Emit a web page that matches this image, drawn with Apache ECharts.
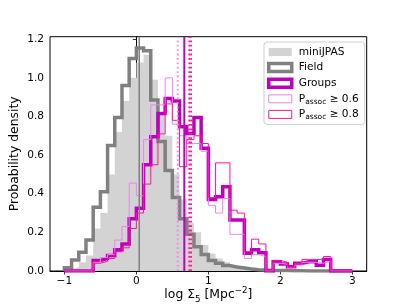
<!DOCTYPE html>
<html><head><meta charset="utf-8">
<script src="https://cdn.jsdelivr.net/npm/echarts@6/dist/echarts.min.js"></script>
<style>html,body{margin:0;padding:0;background:#fff}#c{width:407px;height:305px}</style>
</head><body><div id="c"></div>
<script>
const binEdges = [-1.0,-0.9,-0.8,-0.7,-0.6,-0.5,-0.4,-0.3,-0.2,-0.1,0.0,0.1,0.2,0.3,0.4,0.5,0.6,0.7,0.8,0.9,1.0,1.1,1.2,1.3,1.4,1.5,1.6,1.7,1.8,1.9,2.0,2.1,2.2,2.3,2.4,2.5,2.6,2.7,2.8,2.9,3.0];
const miniJPAS = [0.01,0.02,0.045,0.08,0.22,0.3,0.5,0.72,0.88,1.0,1.08,1.12,0.99,0.82,0.7,0.5,0.37,0.25,0.2,0.135,0.09,0.065,0.045,0.032,0.024,0.018,0.012,0.008,0.005,0.003,0.002,0.002,0.001,0.001,0.001,0.001,0.001,0,0,0];
const field = [0.017,0.057,0.097,0.16,0.33,0.41,0.65,0.795,0.96,1.10,1.155,1.14,0.885,0.67,0.52,0.38,0.27,0.19,0.125,0.085,0.055,0.04,0.028,0.02,0.015,0.01,0.007,0.005,0.003,0.002,0.002,0.001,0.001,0,0,0,0,0,0,0];
const groups = [0,0,0,0,0.055,0.065,0.08,0.11,0.14,0.27,0.325,0.55,0.695,0.816,0.893,0.88,0.747,0.712,0.795,0.635,0.37,0.385,0.436,0.264,0.264,0.092,0.11,0.095,0,0.048,0.036,0.022,0.04,0.048,0.048,0.03,0.06,0,0,0];
const passoc06 = [0,0,0,0,0.045,0.07,0.085,0.16,0.23,0.455,0.39,0.68,0.86,0.86,1.0,0.76,0.7,0.66,0.66,0.62,0.34,0.3,0.375,0.19,0.19,0.065,0.085,0.075,0,0.04,0.035,0.015,0.03,0.045,0.045,0.04,0.05,0,0,0];
const passoc08 = [0,0,0,0,0.04,0.05,0.065,0.1,0.12,0.22,0.3,0.45,0.55,0.71,0.865,0.78,0.54,0.68,0.7,0.66,0.38,0.56,0.56,0.315,0.3,0.1,0.165,0.14,0,0.055,0.045,0.02,0.04,0.06,0.06,0.06,0.075,0,0,0];
const xTicks = [-1,0,1,2,3];
const yTicks = [0,0.2,0.4,0.6,0.8,1.0,1.2];
const vLineX = [0.04,0.574,0.666,0.735,0.76];
const X_MIN = -1.2, X_MAX = 3.2, Y_MAX = 1.213;

function stepData(vals){
  const n = vals.length;
  const d = [[binEdges[0],0]];
  for (let i=0;i<n;i++) d.push([binEdges[i], vals[i]]);
  d.push([binEdges[n], vals[n-1]]);
  d.push([binEdges[n], 0]);
  return d;
}
function stepSeries(name, vals, color, width){
  return {name, type:'line', step:'end', data: stepData(vals), symbol:'none', showSymbol:false,
    lineStyle:{color, width, join:'miter'}, itemStyle:{color}, silent:true, animation:false};
}
function vline(x, color, width, type){
  return {type:'line', data:[[x,0],[x,Y_MAX]], symbol:'none', showSymbol:false, silent:true, animation:false,
    lineStyle:{color, width, type}, z:5};
}
const FONT = 'DejaVu Sans';
const chart = echarts.init(document.getElementById('c'), null, {renderer:'canvas'});
const legendLabels = {
  'miniJPAS':'miniJPAS', 'Field':'Field', 'Groups':'Groups',
  'P06':'P{sub|assoc} ≥ 0.6', 'P08':'P{sub|assoc} ≥ 0.8'
};
chart.setOption({
  animation:false,
  grid:{left:50, right:40.3, top:36.7, bottom:34, show:true, borderColor:'#000', borderWidth:1, backgroundColor:'transparent', containLabel:false, outerBoundsMode:'none'},
  xAxis:{type:'value', min:X_MIN, max:X_MAX, splitLine:{show:false},
    axisLine:{show:true, onZero:false, lineStyle:{color:'#000', width:1}},
    axisTick:{show:true, length:3.5, lineStyle:{color:'#000', width:0.8}, customValues:xTicks},
    axisLabel:{customValues:xTicks, formatter:v=>(v<0?'\u2212':'')+Math.abs(v), color:'#000', fontSize:10.6, fontFamily:FONT, margin:5},
    name:'log Σ{sub|5} [Mpc{sup|−2}]', nameLocation:'middle', nameGap:15, nameMoveOverlap:false,
    nameTextStyle:{color:'#000', fontSize:12.4, fontFamily:FONT, lineHeight:18,
      rich:{sub:{fontSize:8.7, verticalAlign:'bottom', lineHeight:12, fontFamily:FONT, color:'#000'},
            sup:{fontSize:8.7, verticalAlign:'top', lineHeight:12, fontFamily:FONT, color:'#000'}}}
  },
  yAxis:{type:'value', min:0, max:Y_MAX, splitLine:{show:false},
    axisLine:{show:true, lineStyle:{color:'#000', width:1}},
    axisTick:{show:true, length:3.5, lineStyle:{color:'#000', width:0.8}, customValues:yTicks},
    axisLabel:{customValues:yTicks, formatter:v=>v.toFixed(1), color:'#000', fontSize:10.6, fontFamily:FONT, margin:6},
    name:'Probability density', nameLocation:'middle', nameGap:29, nameMoveOverlap:false,
    nameTextStyle:{color:'#000', fontSize:12.4, fontFamily:FONT}
  },
  legend:{orient:'vertical', left:264, top:42, itemWidth:23, itemHeight:8, itemGap:1.6,
    padding:[3,6,3,3], backgroundColor:'rgba(255,255,255,0.8)', borderColor:'#cccccc', borderWidth:1, borderRadius:3,
    selectedMode:false,
    textStyle:{fontFamily:FONT, fontSize:10.6, color:'#000', lineHeight:14, padding:[0,0,0,2],
      rich:{sub:{fontSize:7.5, verticalAlign:'bottom', lineHeight:10, fontFamily:FONT, color:'#000'}}},
    formatter:name=>legendLabels[name],
    data:[
      {name:'miniJPAS', icon:'rect', itemStyle:{color:'#d3d3d3', borderWidth:0}},
      {name:'Field', icon:'rect', itemStyle:{color:'#ffffff', borderColor:'#808080', borderWidth:3.5}},
      {name:'Groups', icon:'rect', itemStyle:{color:'#ffffff', borderColor:'#bf00bf', borderWidth:3.5}},
      {name:'P06', icon:'rect', itemStyle:{color:'#ffffff', borderColor:'#ee82ee', borderWidth:1}},
      {name:'P08', icon:'rect', itemStyle:{color:'#ffffff', borderColor:'#ff1493', borderWidth:1}}
    ]
  },
  series:[
    {name:'miniJPAS', type:'line', step:'end', data:stepData(miniJPAS), symbol:'none', showSymbol:false,
      lineStyle:{width:0, color:'#d3d3d3'}, areaStyle:{color:'#d3d3d3', opacity:1}, itemStyle:{color:'#d3d3d3'}, silent:true, z:1},
    stepSeries('Field', field, '#808080', 3.5),
    stepSeries('Groups', groups, '#bf00bf', 3.5),
    stepSeries('P06', passoc06, '#ee82ee', 1),
    stepSeries('P08', passoc08, '#ff1493', 1),
    vline(vLineX[0], '#808080', 1.5, 'solid'),
    vline(vLineX[1], '#ee82ee', 1.8, [1.8,2.6]),
    vline(vLineX[2], '#bf00bf', 2, 'solid'),
    vline(vLineX[3], '#ff1493', 1.8, [1.8,2.6]),
    vline(vLineX[4], '#ff1493', 1.8, [1.8,2.6])
  ]
});
</script></body></html>
